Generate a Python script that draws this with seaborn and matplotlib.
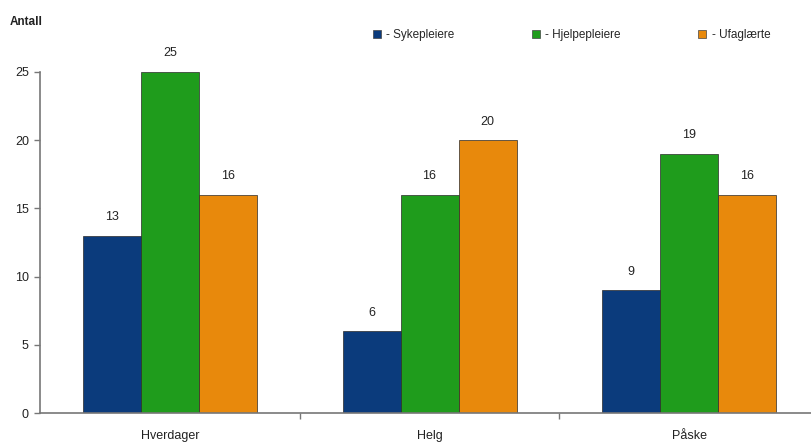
import matplotlib
matplotlib.use("Agg")
import matplotlib.pyplot as plt
from matplotlib.lines import Line2D
import pandas as pd
import seaborn as sns

categories = ["Hverdager", "Helg", "Påske"]
groups = ["Sykepleiere", "Hjelpepleiere", "Ufaglærte"]
sykepleiere = [13, 6, 9]
hjelpepleiere = [25, 16, 19]
ufaglaerte = [16, 20, 16]
colors = ["#0b3b7c", "#1f9c1c", "#e8890c"]

rows = []
for grp, vals in zip(groups, [sykepleiere, hjelpepleiere, ufaglaerte]):
    for cat, v in zip(categories, vals):
        rows.append({"Periode": cat, "Gruppe": grp, "Antall": v})
df = pd.DataFrame(rows)

sns.set_theme(style="white")
plt.rcParams["font.family"] = ["Liberation Sans", "DejaVu Sans"]

fig = plt.figure(figsize=(8.11, 4.47), dpi=100)
ax = fig.add_axes([40 / 811, 34 / 447, 1 - 40 / 811 + 0.01, 341 / 447])

sns.barplot(data=df, x="Periode", y="Antall", hue="Gruppe", order=categories,
            hue_order=groups, palette=colors, saturation=1, width=0.67, gap=0,
            edgecolor="#2a2a2a", linewidth=0.5, legend=False, ax=ax)

for container in ax.containers:
    ax.bar_label(container, fmt="%d", padding=9, fontsize=9, color="#222222")

ax.set_ylim(0, 25)
ax.set_xlim(-0.5, 2.5)
ax.set_yticks([0, 5, 10, 15, 20, 25])
ax.set_xticks([0.5, 1.5], minor=True)
ax.tick_params(axis="x", which="major", length=0, pad=12, labelsize=9, colors="#222222")
ax.tick_params(axis="x", which="minor", length=4, width=1, color="#777777", direction="out", bottom=True)
ax.tick_params(axis="y", length=4, width=1, color="#777777", direction="out", left=True,
               labelsize=9, colors="#222222", pad=4)
ax.set_xlabel("")
ax.set_ylabel("")
for side in ["top", "right"]:
    ax.spines[side].set_visible(False)
for side in ["left", "bottom"]:
    ax.spines[side].set_color("#777777")
    ax.spines[side].set_linewidth(1.2)

fig.text(10 / 811, 1 - 22 / 447, "Antall", fontsize=8.5, fontweight="bold",
         color="#222222", va="center")

handles = [Line2D([], [], marker="s", linestyle="none", markersize=6,
                  markerfacecolor=c, markeredgecolor="#444444", markeredgewidth=0.5)
           for c in colors]
fig.legend(handles, ["- " + g for g in groups], ncol=3, frameon=False,
           loc="center left", bbox_to_anchor=(360 / 811, 1 - 35 / 447),
           fontsize=8.5, handletextpad=0.3, columnspacing=6.4, handlelength=1.0)

fig.savefig("out.png", dpi=100)
